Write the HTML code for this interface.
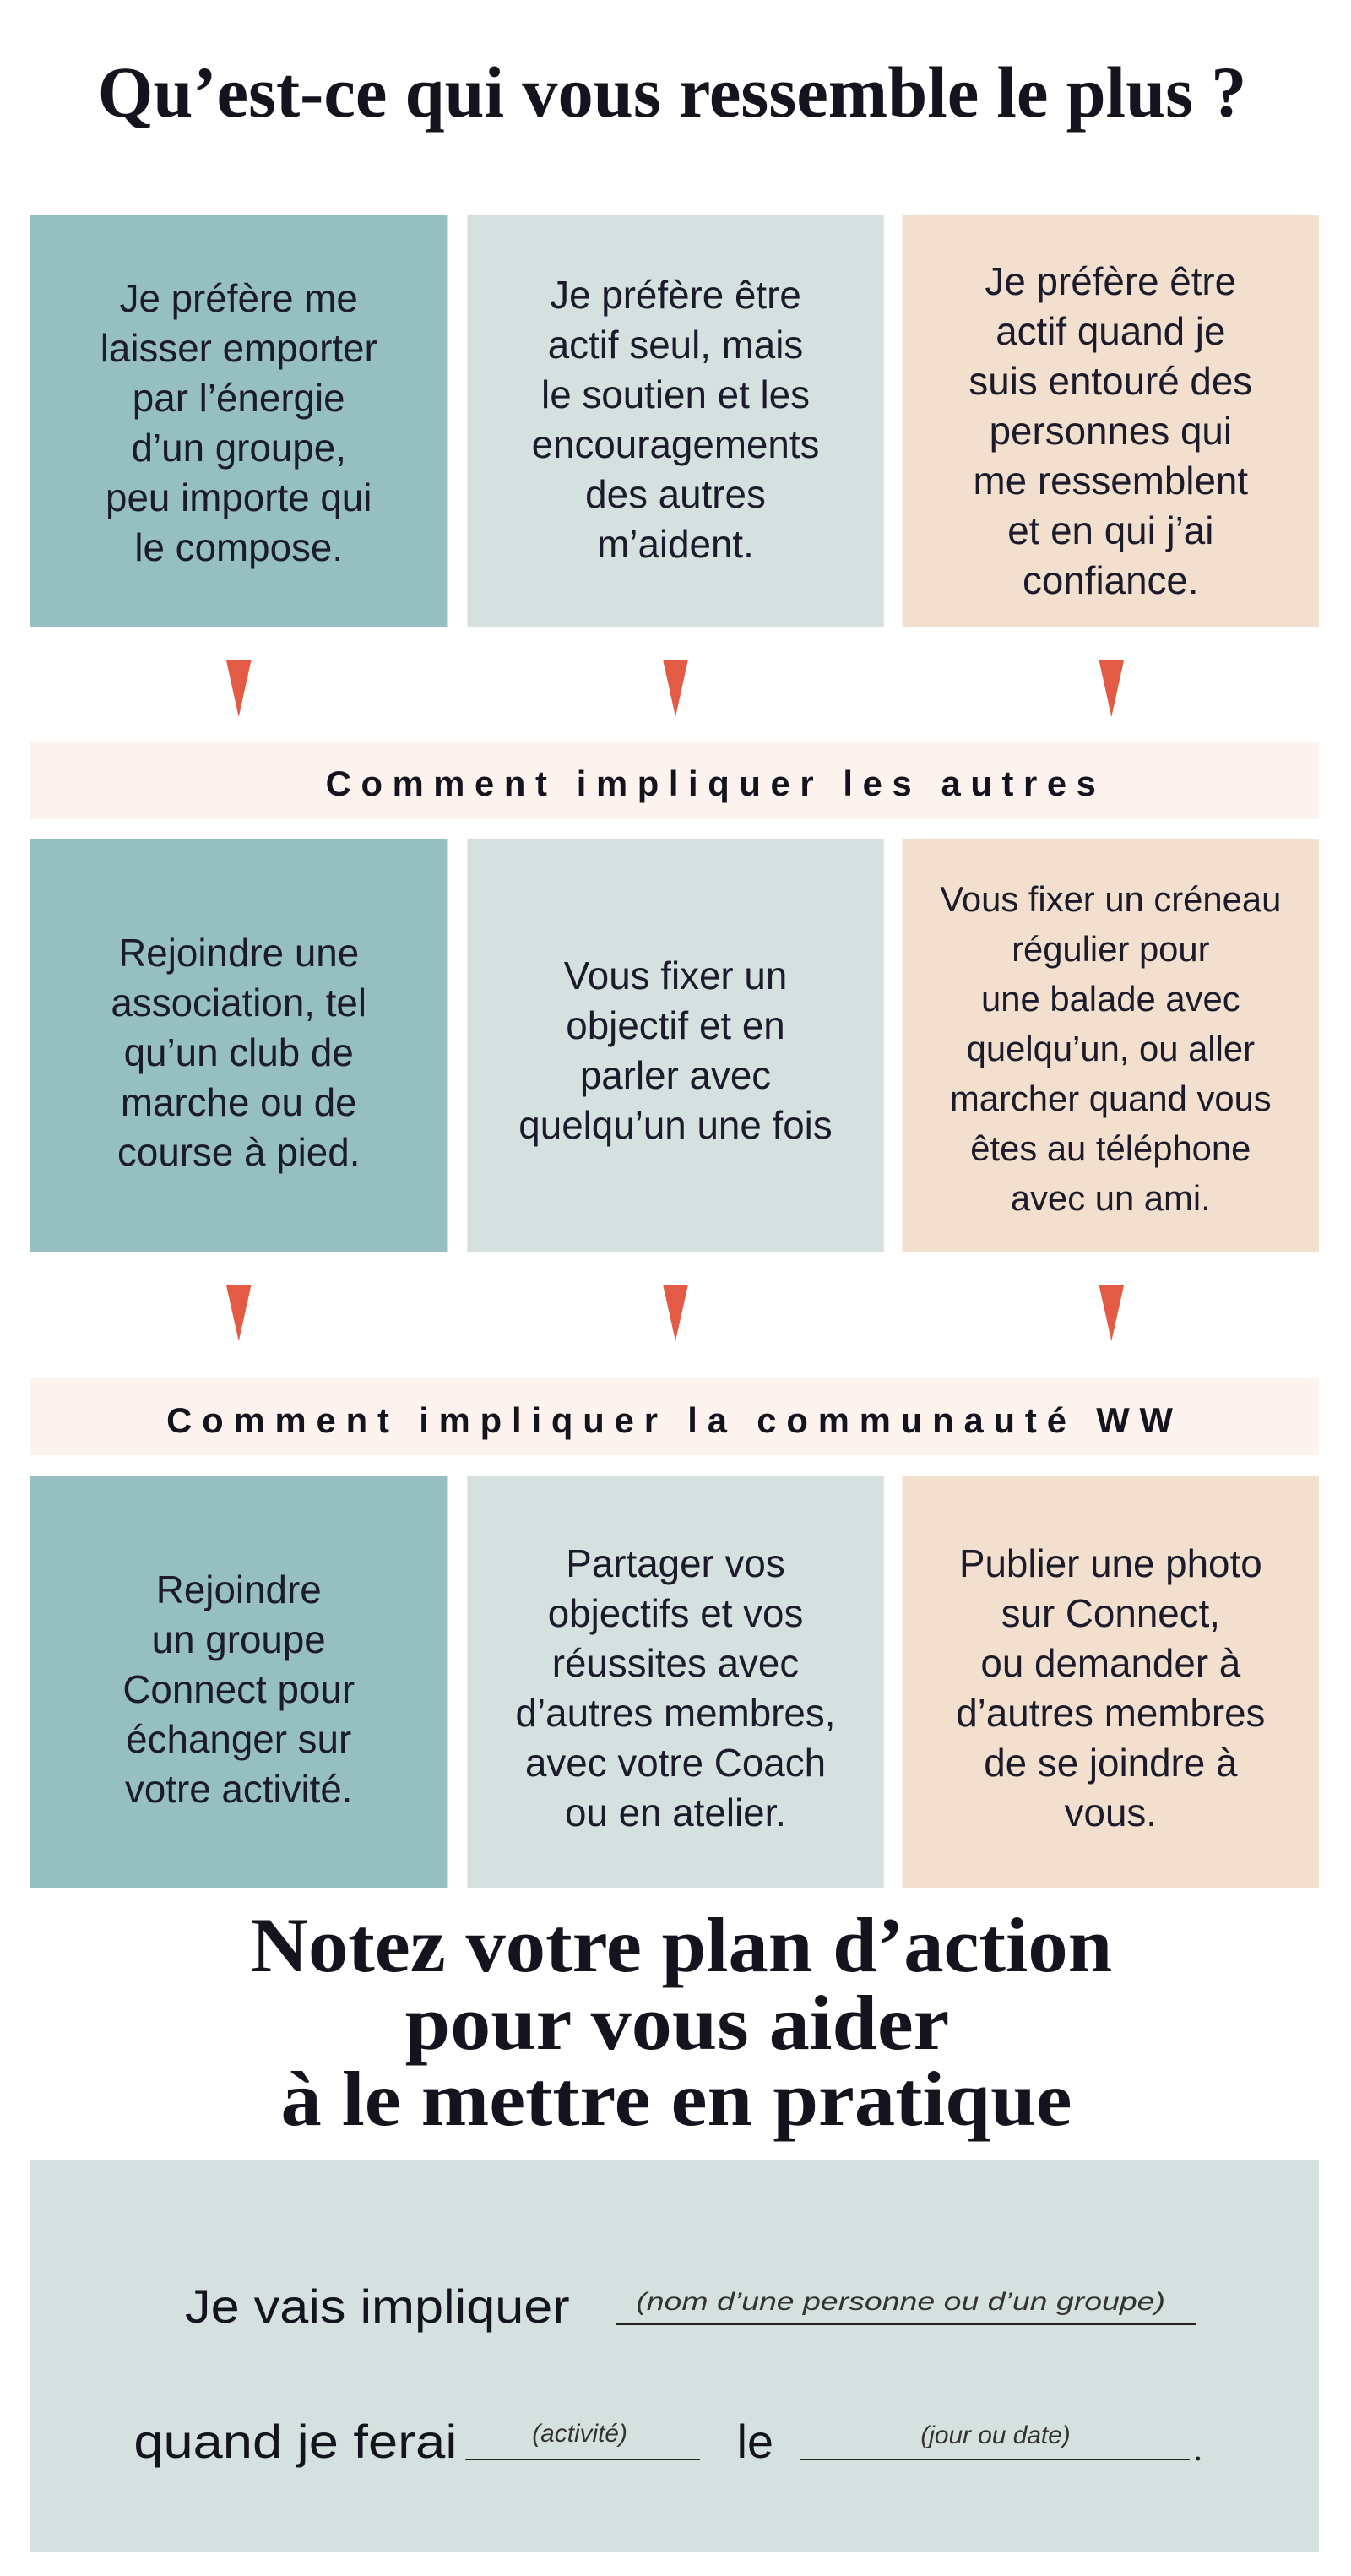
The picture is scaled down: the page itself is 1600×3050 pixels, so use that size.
<!DOCTYPE html>
<html><head><meta charset="utf-8"><style>
html,body{margin:0;padding:0;background:#fff}
svg{display:block}
.b{font-family:"Liberation Sans",sans-serif;font-size:46px;fill:#1b1b2b;text-anchor:middle}
.t{font-family:"Liberation Serif",serif;font-weight:bold;fill:#14141f;text-anchor:middle}
.h{font-family:"Liberation Sans",sans-serif;font-weight:bold;font-size:42px;fill:#14141f;text-anchor:middle}
.i{font-family:"Liberation Sans",sans-serif;font-style:italic;font-size:30px;fill:#333;text-anchor:middle}
.f{font-family:"Liberation Sans",sans-serif;font-size:56px;fill:#14141f}
</style></head><body>
<svg width="1600" height="3050" viewBox="0 0 1600 3050" xmlns="http://www.w3.org/2000/svg">
<g transform="translate(0.2,0) scale(0.9948,1)">
<text class="t" x="800" y="138" font-size="86" textLength="1368" lengthAdjust="spacingAndGlyphs">Qu’est-ce qui vous ressemble le plus ?</text>

<rect x="36" y="254" width="496" height="488" fill="#95bfc1"/>
<rect x="556" y="254" width="496" height="488" fill="#d5e1de"/>
<rect x="1074" y="254" width="496" height="488" fill="#f2dfcd"/>

<g class="b">
<text x="284" y="369">Je préfère me</text><text x="284" y="428">laisser emporter</text><text x="284" y="487">par l’énergie</text><text x="284" y="546">d’un groupe,</text><text x="284" y="605">peu importe qui</text><text x="284" y="664">le compose.</text>
<text x="804" y="365">Je préfère être</text><text x="804" y="424">actif seul, mais</text><text x="804" y="483">le soutien et les</text><text x="804" y="542">encouragements</text><text x="804" y="601">des autres</text><text x="804" y="660">m’aident.</text>
<text x="1322" y="349">Je préfère être</text><text x="1322" y="408">actif quand je</text><text x="1322" y="467">suis entouré des</text><text x="1322" y="526">personnes qui</text><text x="1322" y="585">me ressemblent</text><text x="1322" y="644">et en qui j’ai</text><text x="1322" y="703">confiance.</text>
</g>

<g fill="#e35b45">
<polygon points="269,781 299,781 284,849"/><polygon points="789,781 819,781 804,849"/><polygon points="1308,781 1338,781 1323,849"/>
</g>

<rect x="36" y="878" width="1534" height="92" fill="#fdf3ee"/>
<text class="h" x="846" y="942" textLength="917" lengthAdjust="spacing">Comment impliquer les autres</text>

<rect x="36" y="993" width="496" height="489" fill="#95bfc1"/>
<rect x="556" y="993" width="496" height="489" fill="#d5e1de"/>
<rect x="1074" y="993" width="496" height="489" fill="#f2dfcd"/>

<g class="b">
<text x="284" y="1144">Rejoindre une</text><text x="284" y="1203">association, tel</text><text x="284" y="1262">qu’un club de</text><text x="284" y="1321">marche ou de</text><text x="284" y="1380">course à pied.</text>
<text x="804" y="1171">Vous fixer un</text><text x="804" y="1230">objectif et en</text><text x="804" y="1289">parler avec</text><text x="804" y="1348">quelqu’un une fois</text>
</g>
<g class="b">
<text x="1322" y="1079" font-size="42">Vous fixer un créneau</text><text x="1322" y="1138" font-size="42">régulier pour</text><text x="1322" y="1197" font-size="42">une balade avec</text><text x="1322" y="1256" font-size="42">quelqu’un, ou aller</text><text x="1322" y="1315" font-size="42">marcher quand vous</text><text x="1322" y="1374" font-size="42">êtes au téléphone</text><text x="1322" y="1433" font-size="42">avec un ami.</text>
</g>

<g fill="#e35b45">
<polygon points="269,1521 299,1521 284,1588"/><polygon points="789,1521 819,1521 804,1588"/><polygon points="1308,1521 1338,1521 1323,1588"/>
</g>

<rect x="36" y="1632" width="1534" height="91" fill="#fdf3ee"/>
<text class="h" x="797" y="1696" textLength="1198" lengthAdjust="spacing">Comment impliquer la communauté WW</text>

<rect x="36" y="1748" width="496" height="487" fill="#95bfc1"/>
<rect x="556" y="1748" width="496" height="487" fill="#d5e1de"/>
<rect x="1074" y="1748" width="496" height="487" fill="#f2dfcd"/>

<g class="b">
<text x="284" y="1898">Rejoindre</text><text x="284" y="1957">un groupe</text><text x="284" y="2016">Connect pour</text><text x="284" y="2075">échanger sur</text><text x="284" y="2134">votre activité.</text>
<text x="804" y="1867">Partager vos</text><text x="804" y="1926">objectifs et vos</text><text x="804" y="1985">réussites avec</text><text x="804" y="2044">d’autres membres,</text><text x="804" y="2103">avec votre Coach</text><text x="804" y="2162">ou en atelier.</text>
<text x="1322" y="1867">Publier une photo</text><text x="1322" y="1926">sur Connect,</text><text x="1322" y="1985">ou demander à</text><text x="1322" y="2044">d’autres membres</text><text x="1322" y="2103">de se joindre à</text><text x="1322" y="2162">vous.</text>
</g>

<text class="t" x="811" y="2334" font-size="92" textLength="1026" lengthAdjust="spacingAndGlyphs">Notez votre plan d’action</text>
<text class="t" x="806" y="2426" font-size="92" textLength="648" lengthAdjust="spacingAndGlyphs">pour vous aider</text>
<text class="t" x="805" y="2516" font-size="92" textLength="942" lengthAdjust="spacingAndGlyphs">à le mettre en pratique</text>

<rect x="36" y="2557" width="1534" height="464" fill="#d5e1de"/>
<text class="f" x="220" y="2750" textLength="458" lengthAdjust="spacingAndGlyphs">Je vais impliquer</text>
<line x1="733" y1="2752" x2="1424" y2="2752" stroke="#222" stroke-width="2"/>
<text class="i" x="1072" y="2735" textLength="630" lengthAdjust="spacingAndGlyphs">(nom d’une personne ou d’un groupe)</text>
<text class="f" x="159" y="2910" textLength="385" lengthAdjust="spacingAndGlyphs">quand je ferai</text>
<line x1="554" y1="2912" x2="833" y2="2912" stroke="#222" stroke-width="2"/>
<text class="i" x="690" y="2891">(activité)</text>
<text class="f" x="877" y="2910">le</text>
<line x1="952" y1="2912" x2="1416" y2="2912" stroke="#222" stroke-width="2"/>
<text class="i" x="1185" y="2893">(jour ou date)</text>
<circle cx="1426" cy="2911" r="2.5" fill="#222"/>
</g>
</svg>
</body></html>
